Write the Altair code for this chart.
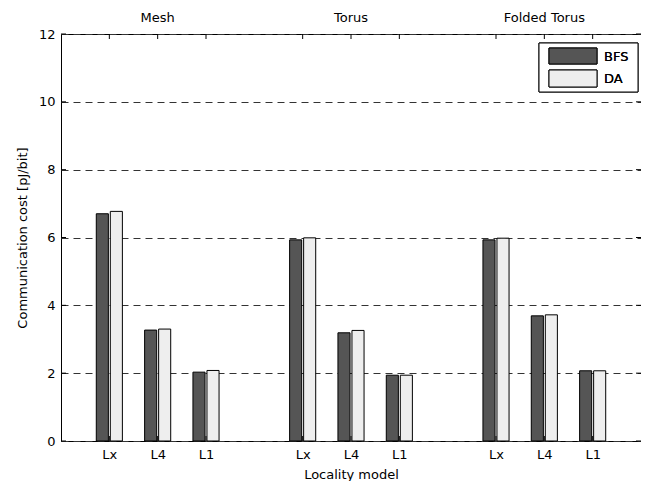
import altair as alt
import pandas as pd

topologies = ["Mesh", "Torus", "Folded Torus"]
models = ["Lx", "L4", "L1"]
series = ["BFS", "DA"]
bfs = [6.70, 3.27, 2.03, 5.93, 3.19, 1.94, 5.93, 3.69, 2.07]
da = [6.77, 3.30, 2.08, 5.99, 3.26, 1.94, 5.98, 3.72, 2.07]
positions = [1, 2, 3, 5, 6, 7, 9, 10, 11]
group_centers = [2, 6, 10]
y_ticks = [0, 2, 4, 6, 8, 10, 12]
colors = ["#555555", "#eeeeee"]

W, H = 580, 407
FONT = "DejaVu Sans"
FS = 13

rows = []
for i, (b, d) in enumerate(zip(bfs, da)):
    p = positions[i]
    rows.append(dict(topology=topologies[i // 3], model=models[i % 3], series="BFS",
                     value=b, x0=p - 0.27, x1=p - 0.02, base=0))
    rows.append(dict(topology=topologies[i // 3], model=models[i % 3], series="DA",
                     value=d, x0=p + 0.02, x1=p + 0.27, base=0))
df = pd.DataFrame(rows)

label_arr = [""] * 13
for i, p in enumerate(positions):
    label_arr[p] = models[i % 3]
label_expr = "[" + ",".join("'" + s + "'" for s in label_arr) + "][datum.value]"

xscale = alt.Scale(domain=[0, 12], nice=False, zero=False)
yscale = alt.Scale(domain=[0, 12], nice=False)

bars = alt.Chart(df).mark_bar(stroke="black", strokeWidth=1).encode(
    x=alt.X("x0:Q", scale=xscale,
            axis=alt.Axis(values=positions, labelExpr=label_expr, title="Locality model",
                          grid=False, domain=False, ticks=False, labelPadding=7,
                          titlePadding=7)),
    x2="x1:Q",
    y=alt.Y("value:Q", scale=yscale,
            axis=alt.Axis(values=y_ticks, grid=True, gridDash=[7, 5], gridColor="#333333",
                          gridOpacity=1, domain=False, ticks=False, labelPadding=6,
                          title="Communication cost [pJ/bit]", titlePadding=9)),
    y2="base:Q",
    color=alt.Color("series:N", scale=alt.Scale(domain=series, range=colors), legend=None),
)

xt = pd.DataFrame({"pos": positions})
yt = pd.DataFrame({"v": y_ticks})
tick_bottom = alt.Chart(xt).mark_rule(color="black").encode(
    x=alt.X("pos:Q", scale=xscale), y=alt.value(H), y2=alt.value(H - 5))
tick_top = alt.Chart(xt).mark_rule(color="black").encode(
    x=alt.X("pos:Q", scale=xscale), y=alt.value(0), y2=alt.value(5))
tick_left = alt.Chart(yt).mark_rule(color="black").encode(
    y=alt.Y("v:Q", scale=yscale), x=alt.value(0), x2=alt.value(5))
tick_right = alt.Chart(yt).mark_rule(color="black").encode(
    y=alt.Y("v:Q", scale=yscale), x=alt.value(W), x2=alt.value(W - 5))

tdf = pd.DataFrame({"topology": topologies, "pos": group_centers})
top_text = alt.Chart(tdf).mark_text(font=FONT, fontSize=FS, color="black", baseline="alphabetic").encode(
    x=alt.X("pos:Q", scale=xscale), y=alt.value(-12.5), text="topology:N")

# legend
leg_df = pd.DataFrame({"series": series})
leg_box = alt.Chart(leg_df).mark_rect(fill="white", stroke="black", strokeWidth=1).encode(
    x=alt.value(478), x2=alt.value(577), y=alt.value(9), y2=alt.value(58))
leg_r1 = alt.Chart(leg_df).mark_rect(fill=colors[0], stroke="black", strokeWidth=1).encode(
    x=alt.value(488), x2=alt.value(536), y=alt.value(14), y2=alt.value(30))
leg_r2 = alt.Chart(leg_df).mark_rect(fill=colors[1], stroke="black", strokeWidth=1).encode(
    x=alt.value(488), x2=alt.value(536), y=alt.value(36), y2=alt.value(53))
leg_t1 = alt.Chart(leg_df).mark_text(font=FONT, fontSize=FS, align="left", baseline="alphabetic",
                                     fontWeight="normal", color="black", text=series[0]).encode(
    x=alt.value(543), y=alt.value(26.7))
leg_t2 = alt.Chart(leg_df).mark_text(font=FONT, fontSize=FS, align="left", baseline="alphabetic",
                                     fontWeight="normal", color="black", text=series[1]).encode(
    x=alt.value(543), y=alt.value(49.2))

chart = alt.layer(
    bars, tick_bottom, tick_top, tick_left, tick_right, top_text,
    leg_box, leg_r1, leg_r2, leg_t1, leg_t2
).properties(
    width=W, height=H,
    autosize=alt.AutoSizeParams(type="none"),
    padding={"left": 53, "top": 26, "right": 0, "bottom": 45},
).configure_view(
    stroke="black", strokeWidth=1
).configure_axis(
    labelFont=FONT, titleFont=FONT, labelFontSize=FS, titleFontSize=FS,
    labelColor="black", titleColor="black", titleFontWeight="normal"
)

chart.save("out.html", embed_options={"renderer": "svg", "actions": False})
